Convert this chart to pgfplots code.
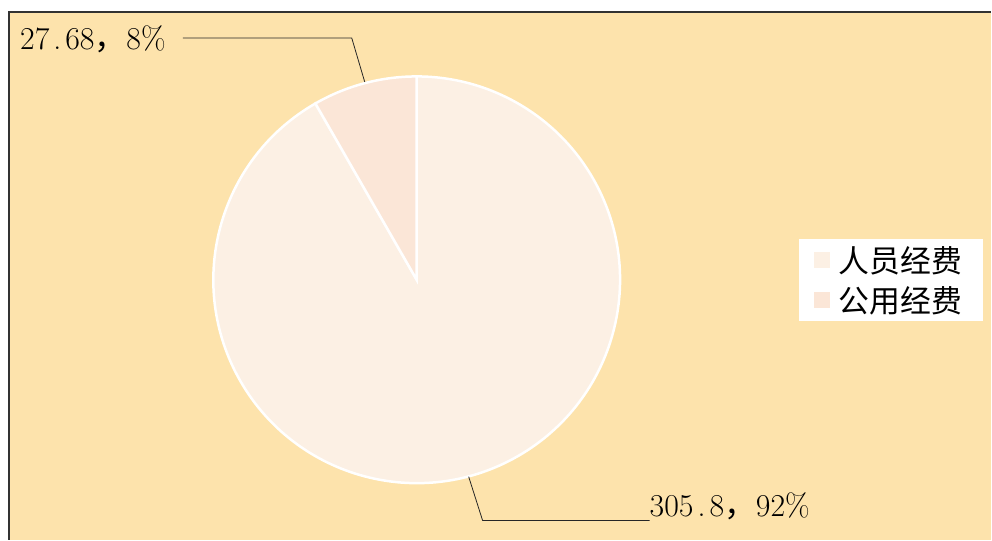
\documentclass[border=0pt]{standalone}
\usepackage{pgfplots}
\pgfplotsset{compat=1.18}
\usepackage{fontspec}
\newfontfamily\cjk{Noto Sans CJK SC}
\definecolor{bg}{RGB}{253,227,172}
\definecolor{sliceA}{RGB}{252,240,228}
\definecolor{sliceB}{RGB}{251,230,215}
\definecolor{frame}{RGB}{50,50,50}
\newcommand\hp{\makebox[0.5em][c]{.}}
\begin{document}
\begin{tikzpicture}
\def\vA{305.8}\def\vB{27.68}
\pgfmathsetmacro\tot{\vA+\vB}
\pgfmathsetmacro\angB{90+360*\vB/\tot}
\begin{axis}[
  width=992bp, height=540bp, scale only axis,
  xmin=0,xmax=992,ymin=0,ymax=540,
  hide axis, clip=false,
  legend style={at={(axis cs:799,301)}, anchor=north west, draw=none, fill=white,
    font=\cjk\fontsize{31}{36}\selectfont, inner xsep=15bp, inner ysep=1bp,
    row sep=0bp, nodes={inner sep=0pt, minimum height=40bp}},
  legend cell align=left,
  legend image code/.code={\fill[#1] (0bp,-8bp) rectangle (16bp,8bp); \path (0bp,0bp) (25bp,0bp);},
]
\fill[white] (axis cs:0,0) rectangle (axis cs:992,540);
\fill[bg] (axis cs:9,0) rectangle (axis cs:992,528);
\draw[frame, line width=1.5bp] (axis cs:9,0) -- (axis cs:9,528) -- (axis cs:992,528);
\filldraw[fill=sliceA, draw=white, line width=2.5bp] (axis cs:417,260) -- ++(\angB:203.5bp) arc[start angle=\angB, end angle=450, radius=203.5bp] -- cycle;
\filldraw[fill=sliceB, draw=white, line width=2.5bp] (axis cs:417,260) -- ++(90:203.5bp) arc[start angle=90, end angle=\angB, radius=203.5bp] -- cycle;
\draw[black!85, line width=0.8bp] (axis cs:365,458) -- (axis cs:352,502) -- (axis cs:183,502);
\draw[black!85, line width=0.8bp] (axis cs:469,63) -- (axis cs:483,19) -- (axis cs:650,19);
\node[anchor=base west, inner sep=0pt, font=\fontsize{32}{38}\selectfont] at (axis cs:20,490) {27\hp68{\cjk，}8\%};
\node[anchor=base west, inner sep=0pt, font=\fontsize{32}{38}\selectfont] at (axis cs:650,23) {305\hp8{\cjk，}92\%};
\addlegendimage{fill=sliceA, draw=none}
\addlegendentry{人员经费\kern6bp}
\addlegendimage{fill=sliceB, draw=none}
\addlegendentry{公用经费\kern6bp}
\end{axis}
\end{tikzpicture}
\end{document}
